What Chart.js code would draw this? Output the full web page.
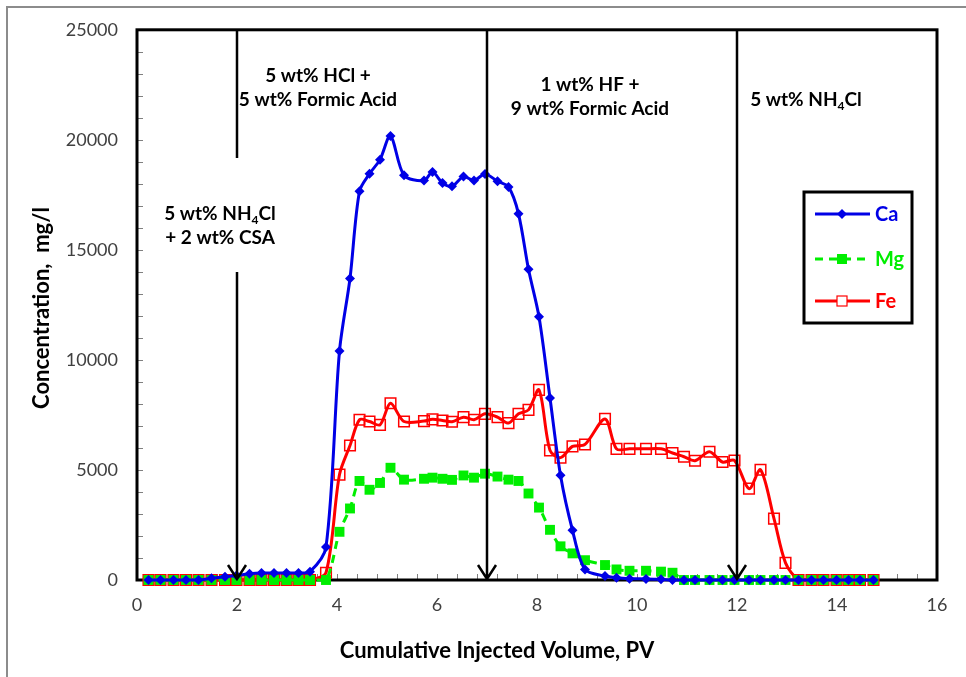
<!DOCTYPE html>
<html>
<head>
<meta charset="utf-8">
<script src="https://cdn.jsdelivr.net/npm/chart.js@4/dist/chart.umd.min.js"></script>
<style>
  body { margin: 0; background: #fff; }
</style>
</head>
<body>
<canvas id="chart" width="966" height="677"></canvas>
<script>
// cumulative injected volume (PV), shared by all three series
const pv = [0.23, 0.47, 0.73, 0.98, 1.23, 1.49, 1.76, 1.99, 2.25, 2.49, 2.74, 2.99, 3.23, 3.46, 3.78,
  4.05, 4.26, 4.45, 4.65, 4.86, 5.07, 5.34, 5.74, 5.91, 6.11, 6.30, 6.53, 6.74, 6.96, 7.21,
  7.43, 7.63, 7.83, 8.04, 8.26, 8.47, 8.71, 8.96, 9.36, 9.59, 9.85, 10.18, 10.48, 10.71, 10.94,
  11.16, 11.45, 11.71, 11.95, 12.24, 12.47, 12.74, 12.97, 13.23, 13.49, 13.73, 13.99, 14.23, 14.46, 14.73];

const ca = [0, 0, 0, 0, 0, 80, 150, 200, 280, 320, 320, 320, 320, 380, 1500,
  10400, 13700, 17660, 18460, 19100, 20180, 18390, 18150, 18540, 18040, 17890, 18330, 18150, 18450, 18120,
  17860, 16640, 14120, 11960, 8270, 4760, 2260, 480, 180, 100, 60, 50, 30, 0, 0,
  0, 0, 0, 0, 0, 0, 0, 0, 0, 0, 0, 0, 0, 0, 0];

const mg = [0, 0, 0, 0, 0, 0, 0, 0, 0, 0, 0, 0, 0, 0, 0,
  2190, 3250, 4500, 4100, 4410, 5100, 4560, 4600, 4650, 4600, 4550, 4750, 4650, 4830, 4700,
  4560, 4500, 3930, 3290, 2280, 1530, 1210, 900, 680, 480, 420, 420, 380, 330, 0,
  0, 0, 0, 0, 0, 0, 0, 0, 0, 0, 0, 0, 0, 0, 0];

const fe = [0, 0, 0, 0, 0, 0, 0, 0, 0, 0, 0, 0, 0, 0, 330,
  4790, 6110, 7280, 7200, 7050, 8030, 7200, 7220, 7300, 7250, 7190, 7400, 7280, 7550, 7400,
  7130, 7550, 7730, 8640, 5890, 5560, 6070, 6160, 7320, 5960, 5960, 5960, 5960, 5770, 5600,
  5420, 5830, 5360, 5430, 4150, 5010, 2790, 780, 0, 0, 0, 0, 0, 0, 0];

// stage boundaries (arrows) and stage labels
const arrowsAt = [2, 7, 12];
const stageLabels = [
  { lines: ['5 wt% HCl +', '5 wt% Formic Acid'], x: 318, y: 76 },
  { lines: ['1 wt% HF +', '9 wt% Formic Acid'], x: 590, y: 85 },
  { lines: ['5 wt% NH|4|Cl'], x: 806, y: 100 },
  { lines: ['5 wt% NH|4|Cl', '+ 2 wt% CSA'], x: 220, y: 214 }
];

const FONT = 'Lato, "Open Sans", sans-serif';
const BLUE = '#0000e6';
const GREEN = '#00ee00';
const RED = '#ff0000';

function pts(ys) {
  return pv.map((x, i) => ({ x: x, y: ys[i] }));
}

// text with optional subscript written as "a|sub|b"
function subText(ctx, txt, cx, cy, size) {
  const parts = txt.split('|');
  const big = 'bold ' + size + 'px ' + FONT;
  const small = 'bold ' + Math.round(size * 0.65) + 'px ' + FONT;
  let w = 0;
  parts.forEach((p, i) => {
    ctx.font = i % 2 ? small : big;
    w += ctx.measureText(p).width;
  });
  let x = cx - w / 2;
  ctx.textAlign = 'left';
  ctx.textBaseline = 'middle';
  parts.forEach((p, i) => {
    ctx.font = i % 2 ? small : big;
    ctx.fillText(p, x, i % 2 ? cy + size * 0.3 : cy);
    x += ctx.measureText(p).width;
  });
}

const framePlugin = {
  id: 'frame',
  beforeDatasetsDraw(chart) {
    const { ctx, chartArea: a, scales } = chart;
    ctx.save();
    // outer chart frame
    ctx.strokeStyle = '#8c8c8c';
    ctx.lineWidth = 2;
    ctx.strokeRect(7, 7, 1000, 1000);
    // minor ticks inside plot
    ctx.strokeStyle = '#808080';
    ctx.lineWidth = 1;
    ctx.beginPath();
    for (let v = 1000; v < 25000; v += 1000) {
      const y = Math.round(scales.y.getPixelForValue(v)) + 0.5;
      ctx.moveTo(a.left, y); ctx.lineTo(a.left + 6, y);
    }
    for (let i = 1; i < 40; i++) {
      const x = Math.round(scales.x.getPixelForValue(i * 0.4)) + 0.5;
      ctx.moveTo(x, a.bottom); ctx.lineTo(x, a.bottom - 6);
    }
    ctx.stroke();
    // plot border
    ctx.strokeStyle = '#000';
    ctx.lineWidth = 3;
    ctx.strokeRect(a.left, a.top, a.right - a.left, a.bottom - a.top);
    ctx.restore();
  },
  afterDraw(chart) {
    const { ctx, chartArea: a, scales } = chart;
    ctx.save();
    // arrows
    ctx.strokeStyle = '#000';
    ctx.lineWidth = 2.5;
    arrowsAt.forEach(v => {
      const x = scales.x.getPixelForValue(v);
      ctx.beginPath();
      if (v === 2) {
        ctx.moveTo(x, a.top); ctx.lineTo(x, 158);
        ctx.moveTo(x, 272); ctx.lineTo(x, a.bottom - 1);
      } else {
        ctx.moveTo(x, a.top); ctx.lineTo(x, a.bottom - 1);
      }
      ctx.moveTo(x - 9, a.bottom - 15);
      ctx.lineTo(x, a.bottom - 1);
      ctx.lineTo(x + 9, a.bottom - 15);
      ctx.stroke();
    });
    // stage labels
    ctx.fillStyle = '#000';
    stageLabels.forEach(s => {
      s.lines.forEach((t, i) => subText(ctx, t, s.x, s.y + i * 24, 19));
    });
    // axis titles
    ctx.font = 'bold 22px ' + FONT;
    ctx.textAlign = 'center';
    ctx.textBaseline = 'middle';
    ctx.fillText('Cumulative Injected Volume, PV', 497, 651);
    ctx.translate(42, 308);
    ctx.rotate(-Math.PI / 2);
    ctx.fillText('Concentration,  mg/l', 0, 0);
    ctx.restore();

    // legend
    ctx.save();
    ctx.strokeStyle = '#000';
    ctx.lineWidth = 3;
    ctx.fillStyle = '#fff';
    ctx.fillRect(804, 192, 108, 131);
    ctx.strokeRect(804, 192, 108, 131);
    const items = [
      { name: 'Ca', color: BLUE, y: 214, dash: [], mark: 'diamond' },
      { name: 'Mg', color: GREEN, y: 259, dash: [8, 6], mark: 'square' },
      { name: 'Fe', color: RED, y: 301, dash: [], mark: 'open' }
    ];
    items.forEach(it => {
      ctx.strokeStyle = it.color;
      ctx.fillStyle = it.color;
      ctx.lineWidth = 3;
      ctx.setLineDash(it.dash);
      ctx.beginPath();
      ctx.moveTo(815, it.y); ctx.lineTo(870, it.y);
      ctx.stroke();
      ctx.setLineDash([]);
      const mx = 842;
      if (it.mark === 'diamond') {
        ctx.beginPath();
        ctx.moveTo(mx, it.y - 5); ctx.lineTo(mx + 5, it.y);
        ctx.lineTo(mx, it.y + 5); ctx.lineTo(mx - 5, it.y);
        ctx.closePath(); ctx.fill();
      } else if (it.mark === 'square') {
        ctx.fillRect(mx - 5, it.y - 5, 10, 10);
      } else {
        ctx.fillStyle = '#fff';
        ctx.fillRect(mx - 5, it.y - 5, 10, 10);
        ctx.lineWidth = 1.2;
        ctx.strokeRect(mx - 5, it.y - 5, 10, 10);
        ctx.fillStyle = it.color;
      }
      ctx.font = 'bold 20px ' + FONT;
      ctx.textAlign = 'left';
      ctx.textBaseline = 'middle';
      ctx.fillText(it.name, 875, it.y + 1);
    });
    ctx.restore();
  }
};

new Chart(document.getElementById('chart'), {
  type: 'line',
  data: {
    datasets: [
      {
        label: 'Ca',
        data: pts(ca),
        borderColor: BLUE,
        backgroundColor: BLUE,
        borderWidth: 3,
        pointStyle: 'rectRot',
        pointRadius: 5,
        pointBorderWidth: 0,
        tension: 0.3
      },
      {
        label: 'Mg',
        data: pts(mg),
        borderColor: GREEN,
        backgroundColor: GREEN,
        borderWidth: 3,
        borderDash: [8, 6],
        pointStyle: 'rect',
        pointRadius: 7,
        pointBorderWidth: 0,
        tension: 0.3
      },
      {
        label: 'Fe',
        data: pts(fe),
        borderColor: RED,
        backgroundColor: 'rgba(0,0,0,0)',
        borderWidth: 3,
        pointStyle: 'rect',
        pointRadius: 7.5,
        pointBorderWidth: 1.5,
        pointBorderColor: RED,
        tension: 0.3
      }
    ]
  },
  options: {
    responsive: false,
    animation: false,
    clip: false,
    layout: { padding: { top: 28, right: 29, left: 0, bottom: 0 } },
    plugins: { legend: { display: false }, tooltip: { enabled: false } },
    scales: {
      x: {
        type: 'linear',
        min: 0,
        max: 16,
        grid: { display: false, drawTicks: false },
        border: { display: false },
        ticks: {
          stepSize: 2,
          padding: 14,
          color: '#404040',
          font: { family: FONT, size: 18 },
          callback: v => String(v)
        },
        afterFit: s => { s.height = 97; }
      },
      y: {
        min: 0,
        max: 25000,
        grid: { display: false, drawTicks: false },
        border: { display: false },
        ticks: {
          stepSize: 5000,
          padding: 19,
          color: '#404040',
          font: { family: FONT, size: 18 },
          callback: v => String(v)
        },
        afterFit: s => { s.width = 137; }
      }
    }
  },
  plugins: [framePlugin]
});
</script>
</body>
</html>
